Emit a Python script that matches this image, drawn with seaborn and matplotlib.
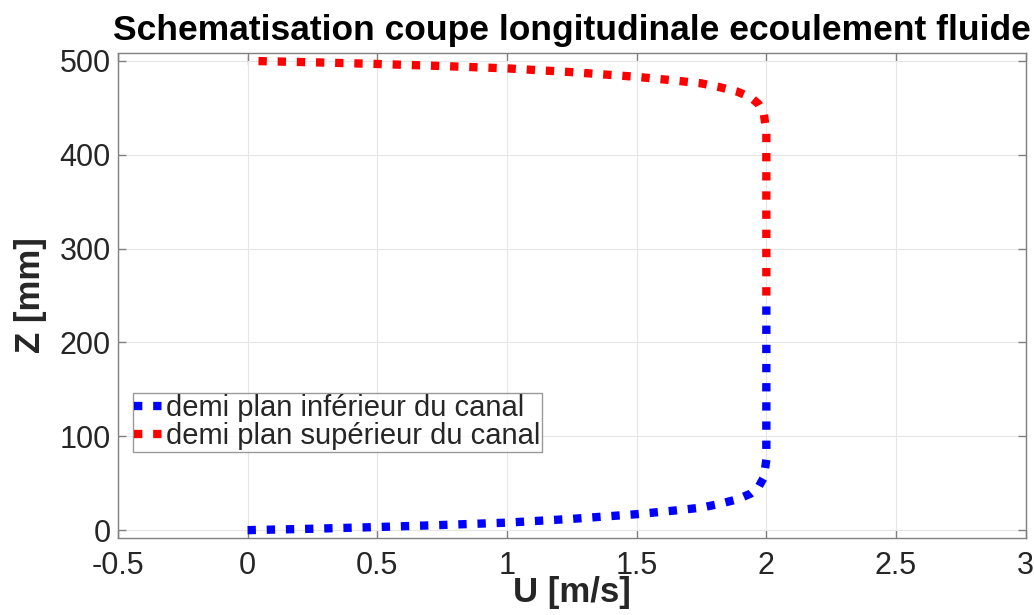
import numpy as np
import pandas as pd
import matplotlib
matplotlib.use("Agg")
import matplotlib.pyplot as plt
import seaborn as sns

# ── Data ───────────────────────────────────────────────
u_inf = [0.0, 0.25, 0.5, 0.75, 1.0, 1.25, 1.5, 1.65, 1.75, 1.82, 1.89, 1.94, 1.97, 1.99, 2.0, 2.0]
z_inf = [0, 1.5, 3.3, 5.5, 8, 12, 17, 21, 24, 28, 33, 39, 46, 56, 75, 250]

u_sup = [2.0, 2.0, 1.99, 1.97, 1.94, 1.89, 1.82, 1.75, 1.65, 1.5, 1.25, 1.0, 0.75, 0.5, 0.25, 0.0]
z_sup = [250, 425, 444, 454, 461, 467, 472, 476, 479, 483, 488, 492, 494.5, 496.7, 498.5, 500]

x_ticks = [-0.5, 0, 0.5, 1, 1.5, 2, 2.5, 3]
y_ticks = [0, 100, 200, 300, 400, 500]

lab_inf = "demi plan inférieur du canal"
lab_sup = "demi plan supérieur du canal"

sns.set_theme(style="whitegrid")
plt.rcParams["font.family"] = ["Liberation Sans", "DejaVu Sans"]

fig = plt.figure(figsize=(10.34, 6.15), dpi=100)
ax = fig.add_axes([0.114, 0.125, 0.878, 0.789])

df_inf = pd.DataFrame({"U": u_inf, "Z": z_inf})
df_sup = pd.DataFrame({"U": u_sup, "Z": z_sup})

line_kw = dict(linewidth=6, dashes=[(1.0, 1.3)], estimator=None, sort=False)
sns.lineplot(data=df_inf, x="U", y="Z", ax=ax, color="#0000ff", label=lab_inf,
             style=np.zeros(len(df_inf)), legend=False, **line_kw)
sns.lineplot(data=df_sup, x="U", y="Z", ax=ax, color="#ff0000", label=lab_sup,
             style=np.zeros(len(df_sup)), legend=False, **line_kw)
for ln in ax.get_lines():
    ln.set_dash_capstyle("butt")

ax.set_xlim(-0.5, 3)
ax.set_ylim(-8.5, 508.5)
ax.set_xticks(x_ticks)
ax.set_xticklabels(["-0.5", "0", "0.5", "1", "1.5", "2", "2.5", "3"])
ax.set_yticks(y_ticks)

ax.set_facecolor("white")
ax.grid(True, color="#e6e6e6", linewidth=0.8)
for sp in ax.spines.values():
    sp.set_color("#808080")
    sp.set_linewidth(1.0)
ax.tick_params(axis="both", direction="in", length=6, width=1, color="#808080",
               labelsize=22, labelcolor="#262626", top=True, right=True,
               bottom=True, left=True)
ax.tick_params(axis="x", pad=9)
ax.tick_params(axis="y", pad=5)

ax.set_xlabel("U [m/s]", fontsize=25, fontweight="bold", color="#262626", labelpad=-3)
ax.set_ylabel("Z [mm]", fontsize=25, fontweight="bold", color="#262626", labelpad=9)
ax.set_title("Schematisation coupe longitudinale ecoulement fluide",
             fontsize=25.5, fontweight="bold", color="black", pad=9)

handles = [plt.Line2D([], [], color="#0000ff", linewidth=6, dashes=(1.0, 1.3),
                      dash_capstyle="butt"),
           plt.Line2D([], [], color="#ff0000", linewidth=6, dashes=(1.0, 1.3),
                      dash_capstyle="butt")]
leg = ax.legend(handles, [lab_inf, lab_sup], loc="upper left",
                bbox_to_anchor=(0.0165, 0.299), borderaxespad=0, fontsize=21,
                handlelength=1.1, handletextpad=0.0, borderpad=0.05,
                labelspacing=0.0, frameon=True, fancybox=False)
leg.get_frame().set_edgecolor("#808080")
leg.get_frame().set_linewidth(1.0)

fig.savefig("out.png", dpi=100)
